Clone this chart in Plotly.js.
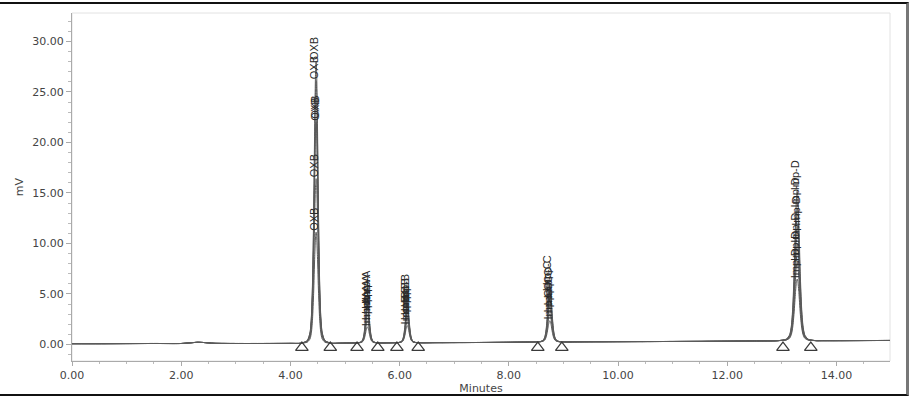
<!DOCTYPE html>
<html><head><meta charset="utf-8">
<script src="https://cdn.plot.ly/plotly-3.0.1.min.js"></script>
<style>
html,body{margin:0;padding:0;background:#fff;}
#wrap{position:relative;width:913px;height:396px;overflow:hidden;}
#chart{width:913px;height:396px;}
#frame{position:absolute;left:-4px;top:2px;width:910px;height:390px;border-top:2px solid #111;border-bottom:2px solid #111;border-right:3px solid #777;pointer-events:none;}
</style></head><body>
<div id="wrap"><div id="chart"></div><div id="frame"></div></div>
<script>
const peakNames = ['OXB', 'Imp-A', 'Imp-B', 'Imp-C', 'Imp-D'];
const retentionTimes = [4.47, 5.41, 6.14, 8.75, 13.28];
const peakWidthScale = [1.0, 0.95, 0.95, 1.05, 1.25];
const peakBaseLevel = [0.12, 0.15, 0.17, 0.25, 0.38];
// six overlaid injections, apex heights (mV)
const heightsOXB  = [11.0, 16.3, 21.9, 22.1, 26.0, 27.9];
const heightsImpA = [1.6, 2.2, 2.8, 3.3, 3.8, 4.2];
const heightsImpB = [1.7, 2.1, 2.6, 3.0, 3.4, 3.8];
const heightsImpC = [2.1, 2.8, 3.5, 4.2, 4.9, 5.5];
const heightsImpD = [6.1, 7.8, 9.6, 11.3, 13.1, 14.8];
// peak shape read from the OXB peak: time offset (min) and fraction of apex height
const profileOffset   = [-0.28, -0.16, -0.11, -0.085, -0.065, -0.045, -0.025, -0.01, 0, 0.01, 0.025, 0.045, 0.065, 0.085, 0.11, 0.16, 0.28];
const profileFraction = [0, 0.01, 0.04, 0.10, 0.22, 0.45, 0.78, 0.96, 1, 0.96, 0.78, 0.45, 0.22, 0.10, 0.04, 0.01, 0];
// baseline outside the peaks
const baselineTime  = [0, 0.5, 1.0, 1.5, 2.0, 2.2, 2.3, 2.4, 2.6, 3.0, 3.5, 4.0, 4.9, 5.0, 5.78, 6.6, 7.0, 7.5, 8.0, 8.3, 9.2, 9.5, 10, 10.5, 11, 11.5, 12, 12.5, 12.85, 13.75, 14.0, 14.5, 14.98];
const baselineValue = [0.08, 0.08, 0.09, 0.10, 0.10, 0.18, 0.22, 0.20, 0.12, 0.10, 0.10, 0.11, 0.13, 0.14, 0.16, 0.18, 0.19, 0.20, 0.22, 0.24, 0.26, 0.27, 0.28, 0.29, 0.30, 0.31, 0.33, 0.35, 0.36, 0.38, 0.38, 0.39, 0.40];
// integration marks (start / end of each peak)
const integrationMarks = [4.21, 4.73, 5.22, 5.60, 5.95, 6.34, 8.53, 8.97, 13.02, 13.53];
const xTickLabelsFormat = '.2f';

const heights = [heightsOXB, heightsImpA, heightsImpB, heightsImpC, heightsImpD];
const nInj = heightsOXB.length;
const traces = [];
const annotations = [];
const labelFont = {family: 'Liberation Sans, Arial, sans-serif', size: 11, color: '#2a2a2a'};

for (let i = 0; i < nInj; i++) {
  const pts = [];
  baselineTime.forEach((t, k) => pts.push([t, baselineValue[k]]));
  for (let j = 0; j < peakNames.length; j++) {
    const h = heights[j][i];
    profileOffset.forEach((o, k) => {
      pts.push([retentionTimes[j] + o * peakWidthScale[j], peakBaseLevel[j] + h * profileFraction[k]]);
    });
    annotations.push({
      x: retentionTimes[j], y: peakBaseLevel[j] + h, xref: 'x', yref: 'y',
      text: peakNames[j], textangle: -90, showarrow: false,
      xanchor: 'center', yanchor: 'bottom', borderpad: 0, xshift: -2,
      font: labelFont
    });
  }
  pts.sort((a, b) => a[0] - b[0]);
  traces.push({
    type: 'scatter', mode: 'lines',
    x: pts.map(p => p[0]), y: pts.map(p => p[1]),
    line: {color: '#5a5a5a', width: 1, shape: 'spline', smoothing: 0.6},
    hoverinfo: 'skip', showlegend: false
  });
}
traces.push({
  type: 'scatter', mode: 'markers',
  x: integrationMarks, y: integrationMarks.map(() => -0.3),
  marker: {symbol: 'triangle-up-open', size: 11, color: '#3a3a3a', line: {width: 1.2, color: '#3a3a3a'}},
  showlegend: false, hoverinfo: 'skip'
});

const tickFont = {family: 'DejaVu Sans, sans-serif', size: 11, color: '#444'};
const layout = {
  width: 913, height: 396,
  margin: {l: 72, r: 23, t: 13, b: 35},
  paper_bgcolor: '#fff', plot_bgcolor: '#fff',
  showlegend: false,
  xaxis: {
    range: [0, 14.98], tick0: 0, dtick: 2, tickformat: xTickLabelsFormat,
    ticks: 'outside', ticklen: 4, tickcolor: '#aaa', tickwidth: 1,
    showline: true, linecolor: '#aaa', linewidth: 1,
    showgrid: false, zeroline: false,
    minor: {dtick: 0.5, ticks: 'outside', ticklen: 2, tickcolor: '#bbb', showgrid: false},
    tickfont: tickFont,
    title: {text: 'Minutes', font: tickFont, standoff: 2}
  },
  yaxis: {
    range: [-1.634, 32.82], tick0: 0, dtick: 5, tickformat: '.2f',
    ticks: 'outside', ticklen: 5, tickcolor: '#aaa', tickwidth: 1,
    showline: true, linecolor: '#aaa', linewidth: 1,
    showgrid: false, zeroline: false,
    minor: {dtick: 1, ticks: 'outside', ticklen: 3, tickcolor: '#bbb', showgrid: false},
    tickfont: tickFont,
    title: {text: 'mV', font: tickFont, standoff: 6}
  },
  shapes: [{type: 'rect', xref: 'paper', yref: 'paper', x0: 0, x1: 1, y0: 0, y1: 1,
    line: {color: '#e2e2e2', width: 1}, layer: 'below'}],
  annotations: annotations
};
Plotly.newPlot('chart', traces, layout, {displayModeBar: false, staticPlot: true});
</script>
</body></html>
